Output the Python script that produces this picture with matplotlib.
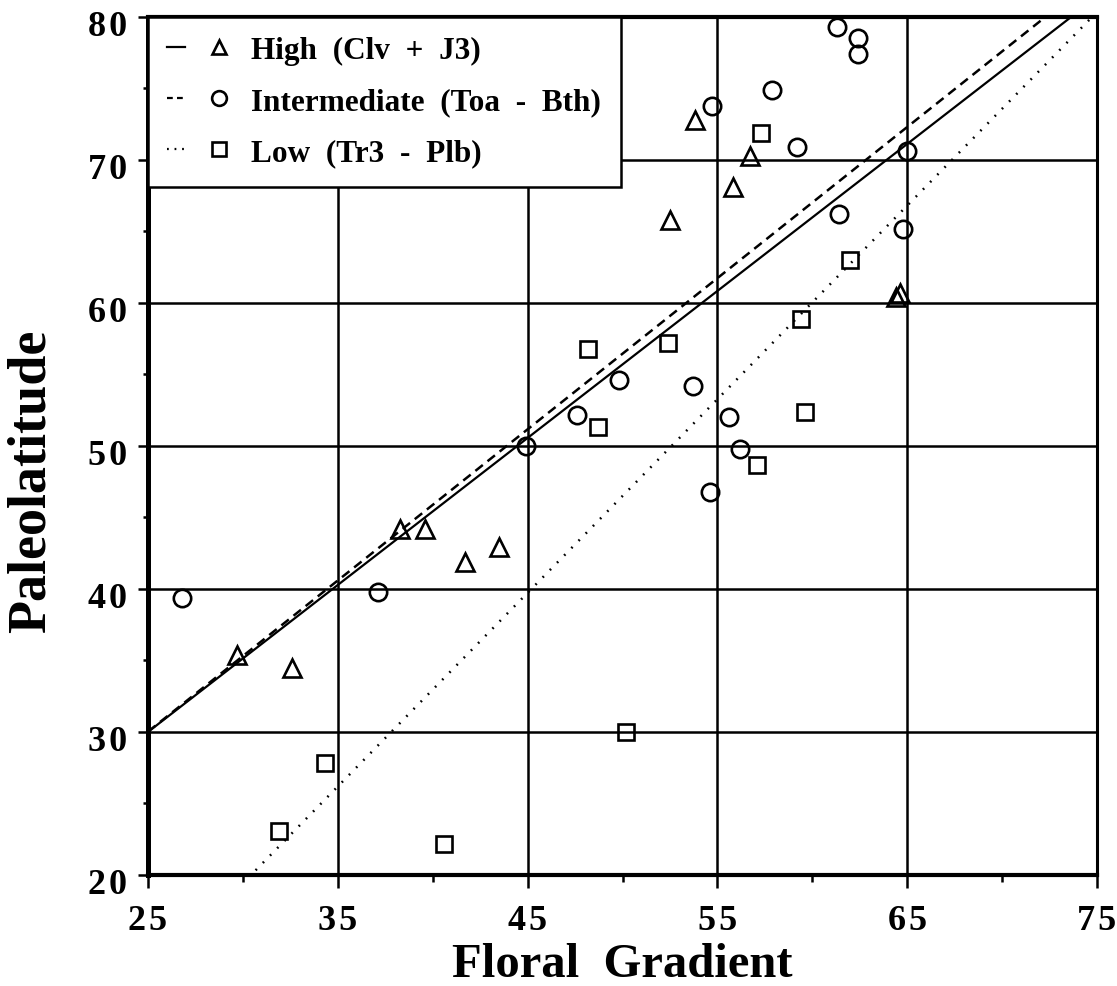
import numpy as np
import matplotlib
matplotlib.use("Agg")
import matplotlib.pyplot as plt
import matplotlib.transforms as mtransforms
from matplotlib.lines import Line2D
from matplotlib.legend_handler import HandlerTuple
from matplotlib.ticker import MultipleLocator, FixedLocator

plt.rcParams['font.family'] = ['Liberation Serif', 'DejaVu Serif']
plt.rcParams['font.weight'] = 'bold'
plt.rcParams['axes.labelweight'] = 'bold'

# High latitude group (Clv + J3)
high_x = [29.7, 32.6, 38.3, 39.6, 41.7, 43.5, 52.5, 53.8, 55.8, 56.7, 64.4, 64.6]
high_y = [35.4, 34.5, 44.2, 44.2, 41.9, 42.9, 65.8, 72.8, 68.1, 70.3, 60.4, 60.7]

# Intermediate group (Toa - Bth)
mid_x = [26.8, 37.1, 44.9, 47.6, 49.8, 53.7, 55.6, 56.2, 54.6, 61.4, 64.8,
         54.7, 57.9, 59.2, 61.3, 62.4, 62.4, 65.0]
mid_y = [39.4, 39.8, 50.0, 52.2, 54.6, 54.2, 52.0, 49.8, 46.8, 66.2, 65.2,
         73.8, 74.9, 70.9, 79.3, 78.5, 77.4, 70.6]

# Low latitude group (Tr3 - Plb)
low_x = [31.9, 34.3, 40.6, 50.2, 48.2, 48.7, 52.4, 57.1, 59.4, 59.6, 62.0, 57.3]
low_y = [23.1, 27.8, 22.2, 30.0, 56.8, 51.3, 57.2, 48.7, 58.9, 52.4, 63.0, 71.9]

# regression lines: (slope, intercept)
fit_high = (1.028, 4.3)
fit_mid = (1.057, 3.6)
fit_low = (1.354, -21.2)

labels = ["High  (Clv  +  J3)", "Intermediate  (Toa  -  Bth)", "Low  (Tr3  -  Plb)"]
x_ticks = [25, 35, 45, 55, 65, 75]
y_ticks = [20, 30, 40, 50, 60, 70, 80]


def spaced(v):
    # digits drawn a little apart
    return "\u200a".join(str(v))


fig = plt.figure(figsize=(11.17, 9.87), dpi=100)
ax = fig.add_axes([0.1325, 0.1125, 0.8496, 0.8693])

xs = np.array([25.0, 75.0])
ax.plot(xs, fit_high[0] * xs + fit_high[1], color='black', lw=1.6, zorder=3)
ax.plot(xs, fit_mid[0] * xs + fit_mid[1], color='black', lw=1.8,
        linestyle=(0, (3.8, 2.4)), zorder=3)
ax.plot(xs, fit_low[0] * xs + fit_low[1], color='black', lw=1.8,
        linestyle=(0, (0.7, 3.4)), zorder=3)

mk = dict(linestyle='none', markerfacecolor='none', markeredgecolor='black',
          markersize=12.5, markeredgewidth=1.9, zorder=4, clip_on=False)
ax.plot(high_x, high_y, marker='^', **mk)
ax.plot(mid_x, mid_y, marker='o', **mk)
ax.plot(low_x, low_y, marker='s', **dict(mk, markersize=12))

ax.set_xlim(25, 75)
ax.set_ylim(20, 80)
ax.xaxis.set_major_locator(FixedLocator(x_ticks))
ax.yaxis.set_major_locator(FixedLocator(y_ticks))
ax.xaxis.set_minor_locator(MultipleLocator(5))
ax.yaxis.set_minor_locator(MultipleLocator(5))
ax.set_xticklabels([spaced(v) for v in x_ticks])
ax.set_yticklabels([spaced(v) for v in y_ticks])

ax.grid(True, which='major', color='black', lw=1.8, zorder=1)
ax.set_axisbelow(True)
ax.tick_params(which='both', direction='out', width=1.8, labelsize=26)
ax.tick_params(axis='y', which='major', length=7.2, pad=8)
ax.tick_params(axis='y', which='minor', length=3.6)
ax.tick_params(axis='x', which='major', length=9, pad=12)
ax.tick_params(axis='x', which='minor', length=5)

# y labels sit slightly below their ticks
shift = mtransforms.ScaledTranslation(0, -4 / 72, fig.dpi_scale_trans)
for t in ax.get_yticklabels():
    t.set_transform(t.get_transform() + shift)

ax.spines['left'].set_linewidth(3.6)
ax.spines['bottom'].set_linewidth(3.0)
ax.spines['top'].set_linewidth(3.0)
ax.spines['right'].set_linewidth(2.2)

ax.set_xlabel("Floral  Gradient", fontsize=35, fontweight='bold')
ax.xaxis.set_label_coords(0.5, -0.104)
ax.xaxis.label.set_va('center')
ax.set_ylabel("Paleolatitude", fontsize=39, fontweight='bold')
ax.yaxis.set_label_coords(-0.123, 0.46)
ax.yaxis.label.set_va('center')


# legend: short line sample followed by the marker
def line_only(ls):
    return Line2D([], [], color='black', lw=1.6, linestyle=ls)


def mark_only(m, ms=10.6):
    return Line2D([], [], linestyle='none', marker=m, markerfacecolor='none',
                  markeredgecolor='black', markersize=ms, markeredgewidth=1.9)


handles = [(line_only('-'), mark_only('^')),
           (line_only((0, (2.6, 1.9))), mark_only('o')),
           (line_only((0, (0.8, 2.6))), mark_only('s', 10.2))]
leg = ax.legend(handles, labels, loc='upper left', borderaxespad=0,
                handler_map={tuple: HandlerTuple(ndivide=None, pad=0.8)},
                handlelength=1.92, handletextpad=0.77, labelspacing=0.7,
                borderpad=0.62, fontsize=22.5, fancybox=False, framealpha=1,
                edgecolor='black')
leg.get_frame().set_linewidth(1.8)
leg.set_zorder(5)

fig.savefig("out.png", dpi=100)
